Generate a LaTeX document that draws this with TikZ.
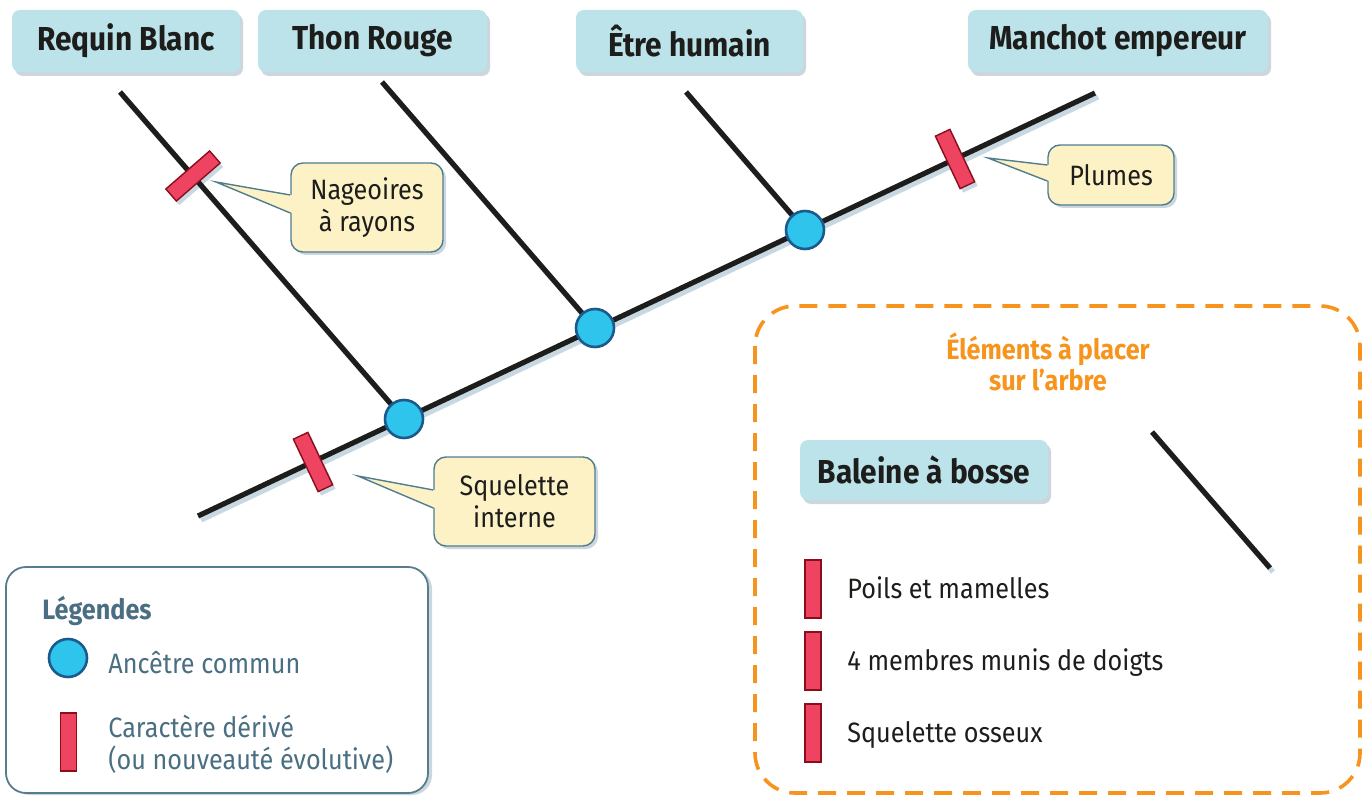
\documentclass[tikz,border=0pt]{standalone}
\usepackage{fontspec}
\setmainfont{Fira Sans}[FakeStretch=0.9]
\usetikzlibrary{shadows}
\definecolor{noir}{RGB}{29,29,27}
\definecolor{bleuclair}{RGB}{189,227,234}
\definecolor{ombre}{RGB}{203,215,221}
\definecolor{ombreclair}{RGB}{200,216,226}
\definecolor{anccyan}{RGB}{46,196,236}
\definecolor{ancbord}{RGB}{27,90,140}
\definecolor{carrouge}{RGB}{238,68,98}
\definecolor{carbord}{RGB}{138,15,26}
\definecolor{bullejaune}{RGB}{253,242,198}
\definecolor{bullebord}{RGB}{79,125,142}
\definecolor{legtexte}{RGB}{74,111,130}
\definecolor{legbord}{RGB}{87,125,140}
\definecolor{orange}{RGB}{247,148,29}
\newcommand{\texte}{\fontsize{14}{16}\selectfont}
\tikzstyle{espece}=[rectangle, rounded corners=4pt, fill=bleuclair, text=noir, font=\bfseries\fontsize{16.6}{19}\selectfont, minimum height=31pt, drop shadow={shadow xshift=1.5pt, shadow yshift=-2pt, fill=ombre, opacity=1}]
\tikzstyle{anc}=[circle, draw=ancbord, fill=anccyan, line width=1.3pt, minimum size=19pt, inner sep=0pt]
\tikzstyle{car}=[rectangle, draw=carbord, fill=carrouge, line width=0.7pt, minimum width=29pt, minimum height=8pt, inner sep=0pt]
\tikzstyle{carombre}=[car, draw=none, fill=ombreclair]
\tikzstyle{branche}=[line width=2.6pt, draw=noir]
\tikzstyle{ombreligne}=[line width=2.6pt, draw=ombreclair]
\tikzstyle{bulle}=[rectangle, rounded corners=6pt, draw=bullebord, fill=bullejaune, line width=0.7pt, align=center, text=noir, font=\texte, drop shadow={shadow xshift=1.5pt, shadow yshift=-1.5pt, fill=ombre, opacity=1}]
\tikzstyle{pointe}=[draw=bullebord, line width=0.7pt, line join=miter]
\tikzstyle{cadre}=[draw=orange, line width=1.8pt, rounded corners=20pt, dash pattern=on 9pt off 5.5pt]

\begin{document}
\begin{tikzpicture}[x=0.5pt, y=-0.5pt]
    \useasboundingbox (0,0) rectangle (1368,796);
    \coordinate (racine) at (198,516);
    \coordinate (a1) at (404,419);
    \coordinate (a2) at (595,328);
    \coordinate (a3) at (805,230);
    \coordinate (manchot) at (1095,93);
    \coordinate (requin) at (120,92);
    \coordinate (thon) at (382,82);
    \coordinate (humain) at (686,92);
    \coordinate (baleine) at (1152,432);
    \coordinate (baleinebas) at (1270,568);
    \begin{scope}[transform canvas={shift={(1.5pt,-2pt)}}]
        \draw[ombreligne] (racine) -- (manchot);
        \draw[ombreligne] (requin) -- (a1);
        \draw[ombreligne] (thon) -- (a2);
        \draw[ombreligne] (humain) -- (a3);
        \draw[ombreligne] (baleine) -- (baleinebas);
        \node[carombre, rotate=41] at (193,176) {};
        \node[carombre, rotate=115.24] at (955,159) {};
        \node[carombre, rotate=115.24] at (313,462) {};
    \end{scope}
    \draw[branche] (racine) -- (manchot);
    \draw[branche] (requin) -- (a1);
    \draw[branche] (thon) -- (a2);
    \draw[branche] (humain) -- (a3);
    \draw[branche] (baleine) -- (baleinebas);
    \node[anc] (n1) at (a1) {};
    \node[anc] (n2) at (a2) {};
    \node[anc] (n3) at (a3) {};
    \node[car, rotate=41] (cnag) at (193,176) {};
    \node[car, rotate=115.24] (cplu) at (955,159) {};
    \node[car, rotate=115.24] (csqu) at (313,462) {};
    \node[espece, minimum width=114pt] (nrequin) at (126,41) {Requin Blanc};
    \node[espece, minimum width=114.5pt] (nthon) at (372.5,41) {Thon Rouge};
    \node[espece, minimum width=113.5pt] (nhumain) at (689.5,41) {Être humain};
    \node[espece, minimum width=150pt] (nmanchot) at (1118,41) {Manchot empereur};
    \node[bulle, minimum width=76pt, minimum height=44.5pt] (bnag) at (367,207.5) {Nageoires\\à rayons};
    \coordinate (pnag) at (216,182);
    \fill[bullejaune] (pnag) -- ([xshift=1pt,yshift=6.25pt]bnag.west) -- ([xshift=1pt,yshift=-2.75pt]bnag.west) -- cycle;
    \draw[pointe] ([yshift=6.25pt]bnag.west) -- (pnag) -- ([yshift=-2.75pt]bnag.west);
    \node[bulle, minimum width=63pt, minimum height=30pt] (bplu) at (1111,175) {Plumes};
    \coordinate (pplu) at (988,158);
    \fill[bullejaune] (pplu) -- ([xshift=1pt,yshift=5pt]bplu.west) -- ([xshift=1pt,yshift=-3pt]bplu.west) -- cycle;
    \draw[pointe] ([yshift=5pt]bplu.west) -- (pplu) -- ([yshift=-3pt]bplu.west);
    \node[bulle, minimum width=80.5pt, minimum height=44.5pt] (bsqu) at (514.5,501.5) {Squelette\\interne};
    \coordinate (psqu) at (358,476);
    \fill[bullejaune] (psqu) -- ([xshift=1pt,yshift=5.75pt]bsqu.west) -- ([xshift=1pt,yshift=-3.25pt]bsqu.west) -- cycle;
    \draw[pointe] ([yshift=5.75pt]bsqu.west) -- (psqu) -- ([yshift=-3.25pt]bsqu.west);
    \node[draw=legbord, fill=white, line width=0.9pt, rounded corners=10pt, minimum width=211pt, minimum height=113pt, drop shadow={shadow xshift=2pt, shadow yshift=-1pt, fill=ombre, opacity=1}] (leg) at (217,680) {};
    \node[anchor=base west, inner sep=0pt, font=\bfseries\texte, text=legtexte] (tleg) at (42,619) {Légendes};
    \node[anc] (lanc) at (68,658) {};
    \node[anchor=base west, inner sep=0pt, font=\texte, text=legtexte] (tanc) at (108,673) {Ancêtre commun};
    \node[car, rotate=90] (lcar) at (68.5,742) {};
    \node[anchor=west, inner sep=0pt, font=\texte, text=legtexte, align=left] (tcar) at (108,744) {Caractère dérivé\\(ou nouveauté évolutive)};
    \draw[cadre] (755,306) rectangle (1360,793);
    \node[font=\bfseries\fontsize{14}{15.5}\selectfont, text=orange, align=center] (titre) at (1048,362) {Éléments à placer\\sur l’arbre};
    \node[espece, minimum width=124pt, minimum height=30pt] (nbaleine) at (924,470) {Baleine à bosse};
    \node[car, rotate=90] (c1) at (813,589) {};
    \node[car, rotate=90] (c2) at (813,661) {};
    \node[car, rotate=90] (c3) at (813,733) {};
    \node[anchor=base west, inner sep=0pt, font=\texte, text=noir] (e1) at (847,598) {Poils et mamelles};
    \node[anchor=base west, inner sep=0pt, font=\texte, text=noir] (e2) at (847,670) {4 membres munis de doigts};
    \node[anchor=base west, inner sep=0pt, font=\texte, text=noir] (e3) at (847,742) {Squelette osseux};
\end{tikzpicture}
\end{document}
